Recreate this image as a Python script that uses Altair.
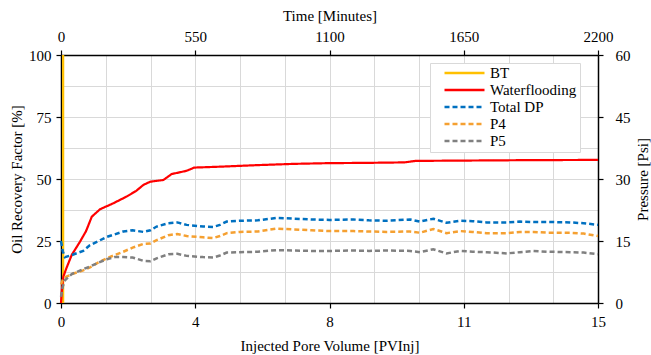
import altair as alt
import pandas as pd

# ---- data ----
series_names = ["BT", "Waterflooding", "Total DP", "P4", "P5"]
series_colors = ["#FFC000", "#FF0000", "#0070C0", "#F5A031", "#808080"]

bt_pv = [0.06, 0.06]
bt_rf = [0, 100]

wf_pv = [0, 0.03, 0.065, 0.15, 0.3, 0.53, 0.7, 0.86, 1.09, 1.46, 1.83, 2.1, 2.3,
         2.49, 2.86, 3.09, 3.51, 3.72, 4.5, 5.5, 6.5, 7.5, 8.5, 9.6, 9.9, 12.0, 13.0, 15.0]
wf_rf = [0, 6, 10.6, 14, 19.4, 24.7, 29, 34.8, 37.8, 40.2, 42.9, 45.2, 47.6,
         48.9, 49.6, 52, 53.3, 54.6, 55.0, 55.6, 56.1, 56.4, 56.5, 56.7, 57.3, 57.5, 57.6, 57.7]

p_pv = [0, 0.05, 0.11, 0.3, 0.62, 0.81, 1.0, 1.28, 1.5, 1.74, 2.0, 2.3, 2.5, 2.67,
        3.0, 3.25, 3.51, 3.97, 4.25, 4.44, 4.63, 5.0, 5.5, 6.03, 6.5, 7.0, 7.5,
        8.17, 8.6, 9.1, 9.75, 10.03, 10.4, 10.77, 11.15, 11.5, 11.89, 12.45,
        12.82, 13.2, 13.6, 14.22, 14.6, 15.0]
total_dp = [15.0, 12.5, 11.1, 11.6, 12.6, 14.0, 14.8, 16.0, 16.6, 17.3, 17.6, 17.2,
            17.6, 18.5, 19.3, 19.5, 18.9, 18.5, 18.4, 18.9, 19.7, 19.9, 20.0, 20.6,
            20.4, 20.2, 20.1, 20.2, 20.0, 19.9, 20.2, 19.7, 20.4, 19.4, 19.9, 19.8,
            19.5, 19.5, 19.7, 19.6, 19.6, 19.5, 19.3, 18.9]
p4 = [4.5, 5.6, 6.2, 7.0, 7.9, 8.6, 9.6, 10.8, 11.6, 12.4, 13.4, 14.3, 14.4, 15.2,
      16.4, 16.7, 16.2, 15.9, 15.7, 16.2, 16.9, 17.2, 17.3, 18.0, 17.8, 17.6, 17.4,
      17.4, 17.3, 17.2, 17.3, 17.0, 17.9, 16.9, 17.4, 17.2, 16.9, 16.9, 17.2, 17.2,
      17.0, 17.0, 16.8, 16.2]
p5 = [1.5, 4.0, 5.5, 7.0, 8.2, 8.8, 9.6, 10.6, 11.1, 11.1, 11.0, 10.2, 10.1, 10.8,
      11.8, 11.9, 11.4, 11.1, 11.0, 11.5, 12.2, 12.3, 12.4, 12.8, 12.7, 12.6, 12.6,
      12.7, 12.6, 12.7, 12.6, 12.3, 13.0, 12.0, 12.6, 12.4, 12.3, 12.0, 12.3, 12.6,
      12.4, 12.3, 12.2, 11.8]

pv_grid = [i * 1.25 for i in range(13)]
rf_grid = [i * 12.5 for i in range(9)]
time_ticks = [0, 550, 1100, 1650, 2200]
psi_ticks = [0, 15, 30, 45, 60]
PV_MAX = 15
TIME_MAX = 2200

# ---- tables ----
rec = pd.concat([
    pd.DataFrame({"pv": bt_pv, "value": bt_rf, "series": "BT", "idx": range(len(bt_pv))}),
    pd.DataFrame({"pv": wf_pv, "value": wf_rf, "series": "Waterflooding", "idx": range(len(wf_pv))}),
])
pres = pd.concat([
    pd.DataFrame({"pv": p_pv, "value": total_dp, "series": "Total DP"}),
    pd.DataFrame({"pv": p_pv, "value": p4, "series": "P4"}),
    pd.DataFrame({"pv": p_pv, "value": p5, "series": "P5"}),
])

FONT = "Liberation Serif"
dash_range = [[1, 0], [1, 0], [5, 3], [5, 3], [5, 3]]

legend = alt.Legend(title=None, orient="none", legendX=369, legendY=8)
color = alt.Color("series:N", scale=alt.Scale(domain=series_names, range=series_colors), legend=legend)
dash = alt.StrokeDash("series:N", scale=alt.Scale(domain=series_names, range=dash_range), legend=legend)

major_pv = "datum.value % 3.75 === 0"
major_rf = "datum.value % 25 === 0"

rec_chart = alt.Chart(rec).mark_line(strokeWidth=2.2).encode(
    x=alt.X("pv:Q", scale=alt.Scale(domain=[0, PV_MAX], nice=False),
            axis=alt.Axis(title="Injected Pore Volume  [PVInj]", orient="bottom",
                          values=pv_grid, grid=True,
                          labelExpr=f"{major_pv} ? format(round(datum.value), 'd') : ''",
                          tickOpacity={"condition": {"test": major_pv, "value": 1}, "value": 0},
                          labelPadding=6, titlePadding=9, labelFlush=False, labelOverlap=False)),
    y=alt.Y("value:Q", scale=alt.Scale(domain=[0, 100], nice=False),
            axis=alt.Axis(title="Oil Recovery Factor [%]", orient="left",
                          values=rf_grid, grid=True,
                          labelExpr=f"{major_rf} ? format(datum.value, 'd') : ''",
                          tickOpacity={"condition": {"test": major_rf, "value": 1}, "value": 0},
                          labelPadding=5, titlePadding=4, labelOverlap=False)),
    color=color,
    strokeDash=dash,
    order="idx:Q",
    detail="series:N",
)

pres_chart = alt.Chart(pres).transform_calculate(
    time=f"datum.pv * {TIME_MAX} / {PV_MAX}"
).mark_line(strokeWidth=2.5).encode(
    x=alt.X("time:Q", scale=alt.Scale(domain=[0, TIME_MAX], nice=False),
            axis=alt.Axis(title="Time [Minutes]", orient="top", values=time_ticks,
                          format="d", grid=False, labelPadding=9, titlePadding=6,
                          labelBaseline="alphabetic",
                          labelFlush=False, labelOverlap=False)),
    y=alt.Y("value:Q", scale=alt.Scale(domain=[0, 60], nice=False),
            axis=alt.Axis(title="Pressure [Psi]", orient="right", values=psi_ticks,
                          grid=False, labelPadding=12, titlePadding=20, titleAngle=270,
                          labelOverlap=False)),
    color=color,
    strokeDash=dash,
    detail="series:N",
)

chart = alt.layer(rec_chart, pres_chart).resolve_scale(
    x="independent", y="independent"
).properties(
    width=537, height=248,
    autosize=alt.AutoSizeParams(type="none"),
    padding={"left": 61, "top": 55, "right": 53, "bottom": 52},
    background="white",
).configure(
    font=FONT,
).configure_axis(
    labelFont=FONT, labelFontSize=15, labelColor="black",
    titleFont=FONT, titleFontSize=15, titleFontWeight="normal", titleColor="black",
    domainColor="black", domainWidth=1.5, tickColor="black", tickSize=5, tickWidth=1.2,
    gridColor="#d9d9d9", gridWidth=1,
).configure_legend(
    symbolType="stroke", symbolSize=1600, symbolStrokeWidth=2.5,
    labelFont=FONT, labelFontSize=15, labelColor="black", labelOffset=4,
    fillColor="white", strokeColor="#d9d9d9", padding=3, rowPadding=2,
    symbolOffset=10, clipHeight=14, symbolOpacity=1,
).configure_view(stroke=None)

chart.save("out.html", embed_options={"renderer": "svg", "actions": False})
